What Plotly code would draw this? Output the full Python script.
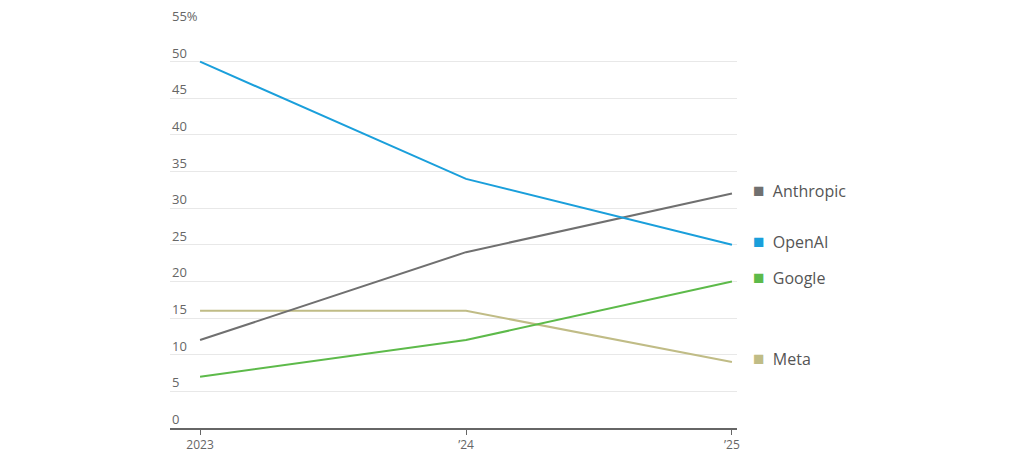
import plotly.graph_objects as go

years = [2023, 2024, 2025]
x_labels = ["2023", "’24", "’25"]
series_names = ["Anthropic", "OpenAI", "Google", "Meta"]
anthropic = [12, 24, 32]
openai = [50, 34, 25]
google = [7, 12, 20]
meta = [16, 16, 9]
colors = {"Anthropic": "#707070", "OpenAI": "#1a9fdb", "Google": "#5dba4a", "Meta": "#c0bc86"}
y_ticks = [0, 5, 10, 15, 20, 25, 30, 35, 40, 45, 50, 55]
y_labels = ["0", "5", "10", "15", "20", "25", "30", "35", "40", "45", "50", "55%"]

data = {"Anthropic": anthropic, "OpenAI": openai, "Google": google, "Meta": meta}

fig = go.Figure()
for name in ["Meta", "Google", "Anthropic", "OpenAI"]:
    fig.add_trace(go.Scatter(x=years, y=data[name], mode="lines", name=name,
                             line=dict(color=colors[name], width=2), hoverinfo="skip"))

font = "Open Sans, Noto Sans, sans-serif"
annotations = []
for v, lab in zip(y_ticks, y_labels):
    annotations.append(dict(xref="paper", yref="y", x=0, y=v, text=lab, showarrow=False,
                            xanchor="left", yanchor="bottom", yshift=-2,
                            font=dict(family=font, size=13, color="#666666")))
for name in series_names:
    annotations.append(dict(xref="paper", yref="y", x=1, y=data[name][-1], yshift=4, xshift=14,
                            text=f"<span style='color:{colors[name]};font-size:19px'>■</span>&nbsp;&nbsp;{name}",
                            showarrow=False, xanchor="left", yanchor="middle",
                            font=dict(family=font, size=16, color="#555555")))

fig.update_layout(
    width=1024, height=461,
    margin=dict(l=162, r=295, t=17, b=41),
    plot_bgcolor="white", paper_bgcolor="white",
    showlegend=False,
    annotations=annotations,
    xaxis=dict(range=[2022.887, 2025.019], tickvals=years, ticktext=x_labels,
               showgrid=False, zeroline=False, showline=True, linecolor="#666666", linewidth=1.5,
               ticks="outside", ticklen=5, tickcolor="#666666",
               tickfont=dict(family=font, size=12, color="#666666")),
    yaxis=dict(range=[0, 55], tickvals=y_ticks, showticklabels=False,
               showgrid=True, gridcolor="#e8e8e8", gridwidth=1, zeroline=False, showline=False),
)

fig.write_html("out.html")
